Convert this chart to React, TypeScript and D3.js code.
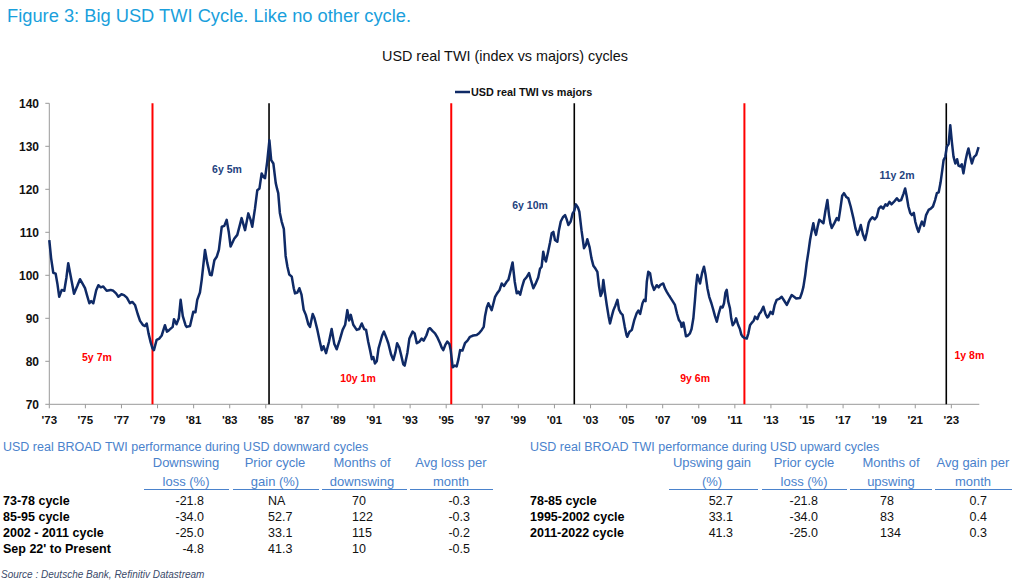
import { useEffect } from "react";
import * as d3 from "d3";

// ── Data ─────────────────────────────────────────────────────────────────
// [decimal year, index level]
const TWI_SERIES: [number, number][] = [
  [1973.0, 108.2], [1973.1, 104], [1973.22, 100.6], [1973.35, 100.4], [1973.45, 98], [1973.55, 95.0],
  [1973.69, 96.6], [1973.83, 96.4], [1973.95, 99.5], [1974.05, 102.8], [1974.19, 99.7], [1974.37, 95.7],
  [1974.55, 97.5], [1974.7, 99.1], [1974.85, 98.0], [1974.98, 97.0], [1975.1, 95.2], [1975.22, 93.5],
  [1975.32, 94.0], [1975.44, 93.5], [1975.6, 96.5], [1975.72, 97.7], [1975.85, 97.2], [1975.99, 97.4],
  [1976.18, 96.4], [1976.4, 96.6], [1976.55, 96.4], [1976.7, 95.8], [1976.83, 95.0], [1977.0, 95.6],
  [1977.14, 95.4], [1977.3, 94.8], [1977.47, 93.5], [1977.6, 93.8], [1977.75, 93.1], [1977.9, 91.0],
  [1978.03, 89.4], [1978.2, 88.4], [1978.3, 88.2], [1978.4, 88.8], [1978.5, 86.5], [1978.62, 84.4],
  [1978.72, 83.0], [1978.8, 82.6], [1978.95, 85.0], [1979.1, 85.3], [1979.23, 86.0], [1979.41, 88.4],
  [1979.52, 86.9], [1979.65, 87.3], [1979.84, 88.0], [1979.91, 89.8], [1980.05, 88.6], [1980.18, 90.0],
  [1980.28, 94.3], [1980.4, 90.5], [1980.55, 88.4], [1980.62, 88.0], [1980.8, 88.2], [1980.98, 91.5],
  [1981.1, 91.4], [1981.2, 94.3], [1981.35, 96.0], [1981.45, 99.0], [1981.63, 105.9], [1981.75, 103],
  [1981.91, 100.1], [1982.0, 100.0], [1982.15, 103.5], [1982.28, 104.3], [1982.4, 105.9], [1982.56, 111.3],
  [1982.7, 111.5], [1982.83, 112.9], [1982.95, 110.0], [1983.05, 106.7], [1983.25, 108.5], [1983.42, 109.4],
  [1983.55, 111.5], [1983.66, 113.3], [1983.85, 110.5], [1984.03, 114.4], [1984.15, 113.0], [1984.25, 111.3],
  [1984.4, 115.5], [1984.53, 119.8], [1984.65, 120.2], [1984.77, 123.7], [1984.88, 122.8], [1984.96, 122.6],
  [1985.08, 126.5], [1985.2, 131.4], [1985.3, 126.8], [1985.42, 126.0], [1985.55, 121.5], [1985.62, 120.2],
  [1985.69, 119.1], [1985.78, 114.5], [1985.88, 112.5], [1986.0, 110.8], [1986.1, 104.5], [1986.2, 102.0],
  [1986.3, 100.2], [1986.44, 99.7], [1986.55, 97.0], [1986.62, 95.8], [1986.75, 96.0], [1986.86, 97.0],
  [1986.98, 95.5], [1987.1, 92.0], [1987.22, 90.8], [1987.36, 88.6], [1987.45, 88.0], [1987.6, 91.0],
  [1987.7, 90.0], [1987.86, 87.3], [1988.0, 84.5], [1988.1, 82.6], [1988.2, 83.5], [1988.34, 81.9],
  [1988.5, 84.5], [1988.65, 87.5], [1988.8, 84.0], [1988.93, 82.8], [1989.1, 85.0], [1989.26, 87.3],
  [1989.4, 88.5], [1989.52, 91.9], [1989.62, 89.5], [1989.71, 90.8], [1989.85, 88.5], [1990.04, 87.3],
  [1990.18, 87.5], [1990.32, 88.8], [1990.45, 87.5], [1990.56, 87.3], [1990.68, 84.5], [1990.78, 82.6],
  [1990.88, 80.5], [1990.96, 81.0], [1991.05, 79.5], [1991.15, 80.0], [1991.25, 83.0], [1991.33, 84.2],
  [1991.45, 86.0], [1991.55, 86.9], [1991.68, 85.5], [1991.79, 84.2], [1991.95, 81.5], [1992.07, 80.3],
  [1992.18, 82.0], [1992.28, 84.2], [1992.4, 83.2], [1992.5, 81.5], [1992.62, 79.3], [1992.7, 79.0],
  [1992.85, 82.0], [1992.96, 85.3], [1993.14, 86.9], [1993.25, 86.5], [1993.37, 84.2], [1993.5, 84.5],
  [1993.64, 85.3], [1993.75, 84.8], [1993.9, 86.0], [1994.02, 87.5], [1994.1, 87.7], [1994.25, 87.0],
  [1994.38, 86.5], [1994.52, 85.5], [1994.66, 84.2], [1994.75, 83.2], [1994.84, 82.6], [1994.95, 83.8],
  [1995.06, 84.6], [1995.18, 84.0], [1995.25, 82.6], [1995.36, 78.6], [1995.48, 79.0], [1995.58, 78.8],
  [1995.68, 80.5], [1995.77, 82.6], [1995.9, 82.5], [1996.04, 84.2], [1996.18, 84.8], [1996.32, 85.7],
  [1996.5, 86.0], [1996.69, 86.1], [1996.82, 86.5], [1996.97, 87.3], [1997.08, 88.0], [1997.15, 90.4],
  [1997.25, 92.5], [1997.34, 93.5], [1997.45, 92.5], [1997.52, 91.9], [1997.62, 93.5], [1997.71, 95.0],
  [1997.82, 95.8], [1997.95, 96.5], [1998.08, 98.1], [1998.2, 97.5], [1998.35, 98.5], [1998.45, 99.0],
  [1998.54, 100.5], [1998.68, 103.0], [1998.8, 98.5], [1998.91, 95.8], [1999.0, 96.2], [1999.1, 95.5],
  [1999.22, 97.5], [1999.32, 98.9], [1999.45, 99.5], [1999.59, 100.5], [1999.7, 98.8], [1999.83, 97.0],
  [1999.95, 98.0], [2000.1, 99.5], [2000.2, 101.5], [2000.29, 102.0], [2000.38, 105.5], [2000.45, 104.0],
  [2000.53, 103.2], [2000.65, 105.5], [2000.75, 107.5], [2000.85, 109.8], [2000.94, 110.1], [2001.03, 108.2],
  [2001.16, 107.8], [2001.25, 110.5], [2001.35, 112.5], [2001.47, 113.5], [2001.59, 114.0], [2001.68, 113.0],
  [2001.77, 111.7], [2001.9, 112.5], [2002.01, 114.4], [2002.1, 115.0], [2002.19, 116.5], [2002.3, 115.8],
  [2002.38, 114.8], [2002.5, 110.5], [2002.64, 106.3], [2002.74, 107.0], [2002.82, 108.4], [2002.95, 106.5],
  [2003.05, 104.0], [2003.16, 102.2], [2003.28, 101.5], [2003.38, 100.8], [2003.47, 97.5], [2003.56, 95.2],
  [2003.64, 96.0], [2003.71, 98.9], [2003.8, 96.0], [2003.9, 93.1], [2004.0, 90.5], [2004.08, 88.8],
  [2004.18, 90.5], [2004.27, 91.9], [2004.38, 93.0], [2004.49, 94.3], [2004.58, 92.0], [2004.68, 91.2],
  [2004.78, 90.8], [2004.9, 88.0], [2005.0, 86.0], [2005.04, 85.7], [2005.15, 86.8], [2005.29, 87.3],
  [2005.42, 89.5], [2005.56, 91.2], [2005.65, 91.8], [2005.75, 91.0], [2005.88, 93.5], [2005.97, 94.3],
  [2006.05, 94.0], [2006.12, 98.5], [2006.2, 100.8], [2006.3, 100.5], [2006.4, 98.0], [2006.52, 96.6],
  [2006.67, 97.7], [2006.78, 97.2], [2006.88, 97.8], [2007.03, 98.1], [2007.12, 97.0], [2007.22, 96.2],
  [2007.32, 95.5], [2007.4, 95.0], [2007.55, 94.0], [2007.68, 93.1], [2007.8, 91.0], [2007.9, 89.6],
  [2008.0, 89.0], [2008.05, 88.0], [2008.15, 89.0], [2008.22, 87.5], [2008.29, 85.8], [2008.4, 86.0],
  [2008.51, 86.5], [2008.6, 87.5], [2008.7, 90.0], [2008.79, 94.3], [2008.85, 97.5], [2008.92, 100.1],
  [2009.0, 99.0], [2009.07, 98.1], [2009.18, 100.5], [2009.29, 102.0], [2009.38, 100.0], [2009.48, 97.0],
  [2009.58, 95.0], [2009.7, 93.5], [2009.81, 91.9], [2009.9, 90.5], [2010.0, 89.2], [2010.1, 91.0],
  [2010.22, 92.7], [2010.32, 92.5], [2010.4, 93.5], [2010.48, 96.0], [2010.55, 96.6], [2010.63, 94.0],
  [2010.73, 92.3], [2010.8, 90.0], [2010.88, 88.4], [2010.98, 89.0], [2011.07, 90.0], [2011.18, 88.5],
  [2011.28, 87.5], [2011.36, 86.2], [2011.44, 85.7], [2011.55, 85.4], [2011.66, 85.3], [2011.75, 86.5],
  [2011.84, 88.4], [2011.95, 89.0], [2012.05, 89.5], [2012.12, 90.4], [2012.25, 89.8], [2012.35, 91.0],
  [2012.45, 91.5], [2012.58, 92.7], [2012.7, 91.0], [2012.8, 90.2], [2012.86, 90.4], [2012.98, 91.5],
  [2013.1, 91.0], [2013.2, 93.0], [2013.32, 94.3], [2013.45, 94.5], [2013.6, 95.0], [2013.72, 94.2],
  [2013.88, 93.1], [2013.98, 94.0], [2014.05, 94.6], [2014.15, 95.4], [2014.28, 95.0], [2014.4, 94.6],
  [2014.61, 94.7], [2014.72, 96.0], [2014.8, 97.3], [2014.9, 100.0], [2014.98, 102.8], [2015.08, 105.5],
  [2015.17, 108.2], [2015.27, 110.5], [2015.35, 112.1], [2015.42, 110.5], [2015.5, 109.4], [2015.6, 111.5],
  [2015.68, 112.9], [2015.8, 112.5], [2015.91, 112.1], [2016.02, 115.0], [2016.13, 117.5], [2016.22, 114.0],
  [2016.3, 112.0], [2016.37, 111.0], [2016.5, 112.0], [2016.65, 113.3], [2016.75, 112.8], [2016.85, 115.5],
  [2016.95, 118.5], [2017.05, 119.1], [2017.18, 118.2], [2017.29, 117.9], [2017.42, 116.0], [2017.57, 113.3],
  [2017.68, 111.0], [2017.8, 109.4], [2017.9, 110.5], [2017.98, 111.7], [2018.1, 109.5], [2018.22, 108.2],
  [2018.32, 110.0], [2018.42, 112.2], [2018.5, 112.9], [2018.62, 113.5], [2018.75, 113.0], [2018.87, 113.6],
  [2018.98, 115.5], [2019.1, 116.0], [2019.22, 115.5], [2019.35, 116.5], [2019.45, 116.2], [2019.57, 117.1],
  [2019.68, 116.5], [2019.8, 117.0], [2019.98, 117.9], [2020.1, 117.3], [2020.22, 117.5], [2020.35, 119.0],
  [2020.44, 120.2], [2020.52, 118.5], [2020.62, 116.0], [2020.72, 114.5], [2020.81, 114.0], [2020.92, 114.5],
  [2021.0, 112.5], [2021.1, 111.0], [2021.18, 110.1], [2021.28, 111.5], [2021.37, 112.5], [2021.48, 111.5],
  [2021.6, 114.0], [2021.74, 115.2], [2021.86, 115.5], [2021.98, 116.0], [2022.1, 117.5], [2022.2, 119.1],
  [2022.3, 119.3], [2022.4, 121.5], [2022.5, 124.5], [2022.57, 126.8], [2022.66, 127.5], [2022.75, 129.9],
  [2022.85, 130.5], [2022.94, 134.9], [2023.03, 131.0], [2023.12, 127.6], [2023.22, 126.0], [2023.32, 127.0],
  [2023.4, 125.5], [2023.49, 125.3], [2023.58, 125.8], [2023.67, 123.7], [2023.78, 126.5], [2023.88, 128.5],
  [2023.95, 129.5], [2024.05, 127.5], [2024.14, 126.0], [2024.25, 127.5], [2024.38, 128.0], [2024.51, 129.8],
];

// cycle turning points (red = trough, black = peak)
const CYCLE_DATES = [1978.72, 1985.18, 1995.28, 2002.1, 2011.53, 2022.72];
const CYCLE_KINDS = ["trough", "peak", "trough", "peak", "trough", "peak"];

// cycle duration labels: [decimal year, index level, text, kind]
const CYCLE_LABELS: [number, number, string, string][] = [
  [1975.64, 81.0, "5y 7m", "down"],
  [1982.85, 124.7, "6y 5m", "up"],
  [1990.11, 76.1, "10y 1m", "down"],
  [1999.65, 116.3, "6y 10m", "up"],
  [2008.8, 76.1, "9y 6m", "down"],
  [2019.99, 123.3, "11y 2m", "up"],
  [2024.0, 81.5, "1y 8m", "down"],
];

const Y_TICKS = [70, 80, 90, 100, 110, 120, 130, 140];
const X_TICKS = d3.range(1973, 2024, 2);

// tables
const DOWN_HEADERS = [["Downswing", "loss (%)"], ["Prior cycle", "gain (%)"], ["Months of", "downswing"], ["Avg loss per", "month"]];
const DOWN_ROWS = ["73-78 cycle", "85-95 cycle", "2002 - 2011 cycle", "Sep 22' to Present"];
const DOWN_LOSS = ["-21.8", "-34.0", "-25.0", "-4.8"];
const DOWN_PRIOR = ["NA", "52.7", "33.1", "41.3"];
const DOWN_MONTHS = ["70", "122", "115", "10"];
const DOWN_AVG = ["-0.3", "-0.3", "-0.2", "-0.5"];

const UP_HEADERS = [["Upswing gain", "(%)"], ["Prior cycle", "loss (%)"], ["Months of", "upswing"], ["Avg gain per", "month"]];
const UP_ROWS = ["78-85 cycle", "1995-2002 cycle", "2011-2022 cycle"];
const UP_GAIN = ["52.7", "33.1", "41.3"];
const UP_PRIOR = ["-21.8", "-34.0", "-25.0"];
const UP_MONTHS = ["78", "83", "134"];
const UP_AVG = ["0.7", "0.4", "0.3"];

const W = 1013;
const H = 584;
const PLOT = { left: 49.3, right: 979.3, top: 103.3, bottom: 404.3 };
const NAVY = "#0f2a66";
const RED = "#ff0000";
const BLUE_HEAD = "#4a82cc";
const FONT = "'Liberation Sans', Arial, sans-serif";

const ROW_Y = [501, 517, 533, 549];

type Col = { x: number; anchor: "start" | "middle" | "end" };

function Table({ x0, title, headers, headerCx, lines, rows, cols, colVals }: {
  x0: number; title: string; headers: string[][]; headerCx: number[];
  lines: [number, number][]; rows: string[]; cols: Col[]; colVals: string[][];
}) {
  return (
    <g fontFamily={FONT}>
      <text x={x0} y={451} fontSize={12.5} fill={BLUE_HEAD}>{title}</text>
      {headers.map((h, i) => (
        <g key={i}>
          <text x={headerCx[i]} y={467} fontSize={13} fill={BLUE_HEAD} textAnchor="middle">{h[0]}</text>
          <text x={headerCx[i]} y={486} fontSize={13} fill={BLUE_HEAD} textAnchor="middle">{h[1]}</text>
          <line x1={lines[i][0]} x2={lines[i][1]} y1={489.5} y2={489.5} stroke={BLUE_HEAD} strokeWidth={1} />
        </g>
      ))}
      {rows.map((r, ri) => (
        <g key={r}>
          <text x={x0} y={ROW_Y[ri]} dy="0.35em" fontSize={12.5} fontWeight="bold" fill="#000">{r}</text>
          {cols.map((c, ci) => (
            <text key={ci} x={c.x} y={ROW_Y[ri]} dy="0.35em" fontSize={12.5} fill="#111" textAnchor={c.anchor}>
              {colVals[ci][ri]}
            </text>
          ))}
        </g>
      ))}
    </g>
  );
}

export default function App() {
  useEffect(() => {
    document.body.style.margin = "0";
  }, []);

  const x = d3.scaleLinear().domain([1973, 2024.55]).range([PLOT.left, PLOT.right]);
  const y = d3.scaleLinear().domain([70, 140]).range([PLOT.bottom, PLOT.top]);
  const line = d3.line<[number, number]>().x((d) => x(d[0])).y((d) => y(d[1]));

  return (
    <svg width={W} height={H} viewBox={`0 0 ${W} ${H}`} style={{ display: "block", background: "#fff" }}>
      {/* figure heading */}
      <text x={7} y={22} fontFamily={FONT} fontSize={18.3} fill="#1a9fdc">
        Figure 3: Big USD TWI Cycle. Like no other cycle.
      </text>

      {/* chart title */}
      <text x={505} y={61} fontFamily={FONT} fontSize={14.4} fill="#111" textAnchor="middle">
        USD real TWI (index vs majors) cycles
      </text>

      {/* legend */}
      <line x1={455} x2={470} y1={92} y2={92} stroke={NAVY} strokeWidth={2.5} />
      <text x={471} y={92.5} dy="0.35em" fontFamily={FONT} fontSize={10.8} fontWeight="bold" fill="#111">
        USD real TWI vs majors
      </text>

      {/* axes */}
      <g fontFamily={FONT}>
        <line x1={PLOT.left} x2={PLOT.left} y1={PLOT.top} y2={PLOT.bottom} stroke="#999" strokeWidth={1} />
        {Y_TICKS.map((t) => (
          <g key={t}>
            <line x1={PLOT.left - 4} x2={PLOT.left} y1={y(t)} y2={y(t)} stroke="#999" />
            <text x={39} y={y(t)} dy="0.35em" textAnchor="end" fontSize={12} fontWeight="bold" fill="#111">{t}</text>
          </g>
        ))}
        <line x1={PLOT.left} x2={PLOT.right} y1={PLOT.bottom} y2={PLOT.bottom} stroke="#999" strokeWidth={1} />
        {X_TICKS.map((t) => (
          <g key={t}>
            <line x1={x(t)} x2={x(t)} y1={PLOT.bottom} y2={PLOT.bottom + 4} stroke="#999" />
            <text x={x(t)} y={420} dy="0.35em" textAnchor="middle" fontSize={11.5} fontWeight="bold" fill="#111">
              {"'" + String(t).slice(2)}
            </text>
          </g>
        ))}
      </g>

      {/* cycle turning points */}
      {CYCLE_DATES.map((d, i) => (
        <line
          key={d}
          x1={x(d)} x2={x(d)} y1={PLOT.top} y2={PLOT.bottom}
          stroke={CYCLE_KINDS[i] === "trough" ? RED : "#000"}
          strokeWidth={CYCLE_KINDS[i] === "trough" ? 2 : 1.6}
        />
      ))}

      {/* series */}
      <path d={line(TWI_SERIES) ?? ""} fill="none" stroke={NAVY} strokeWidth={2.5} strokeLinejoin="round" />

      {/* duration labels */}
      {CYCLE_LABELS.map(([t, v, txt, kind]) => (
        <text
          key={txt}
          x={x(t)} y={y(v)} dy="0.35em" textAnchor="middle"
          fontFamily={FONT} fontSize={10.5} fontWeight="bold"
          fill={kind === "down" ? RED : "#23427e"}
        >
          {txt}
        </text>
      ))}

      {/* tables */}
      <Table
        x0={3}
        title="USD real BROAD TWI performance during USD downward cycles"
        headers={DOWN_HEADERS}
        headerCx={[186, 275, 362, 451]}
        lines={[[144, 229], [233, 319], [322, 407], [410, 493]]}
        rows={DOWN_ROWS}
        cols={[{ x: 204, anchor: "end" }, { x: 268, anchor: "start" }, { x: 352, anchor: "start" }, { x: 470, anchor: "end" }]}
        colVals={[DOWN_LOSS, DOWN_PRIOR, DOWN_MONTHS, DOWN_AVG]}
      />
      <Table
        x0={530}
        title="USD real BROAD TWI performance during USD upward cycles"
        headers={UP_HEADERS}
        headerCx={[712, 804, 891, 973]}
        lines={[[669, 758], [762, 847], [850, 932], [935, 1012]]}
        rows={UP_ROWS}
        cols={[{ x: 733, anchor: "end" }, { x: 818, anchor: "end" }, { x: 880, anchor: "start" }, { x: 987, anchor: "end" }]}
        colVals={[UP_GAIN, UP_PRIOR, UP_MONTHS, UP_AVG]}
      />

      {/* source */}
      <text x={1} y={578} fontFamily={FONT} fontSize={10} fontStyle="italic" fill="#3a4a6a">
        Source : Deutsche Bank, Refinitiv Datastream
      </text>
    </svg>
  );
}
